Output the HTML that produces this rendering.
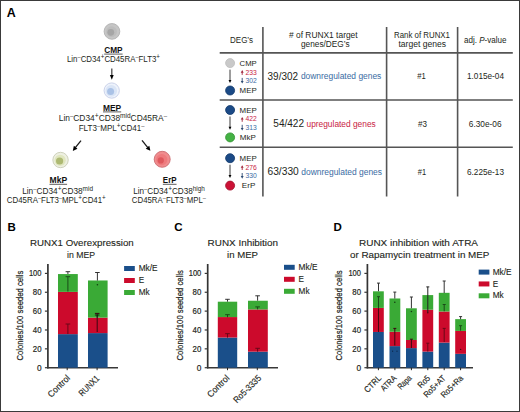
<!DOCTYPE html>
<html><head><meta charset="utf-8"><style>
html,body{margin:0;padding:0;background:#fff;}
body{width:520px;height:412px;overflow:hidden;}
svg{display:block;font-family:"Liberation Sans", sans-serif;}
</style></head><body>
<svg width="520" height="412" viewBox="0 0 520 412">
<rect x="0" y="0" width="520" height="412" fill="#fff"/>
<text x="6.8" y="16.6" font-size="12.2" font-weight="bold" fill="#000" textLength="9" lengthAdjust="spacingAndGlyphs">A</text>
<circle cx="111.95" cy="31.4" r="7.8500000000000005" fill="#c6c6c6" stroke="#b2b2b2" stroke-width="0.9"/>
<circle cx="111.55" cy="31.7" r="5.4" fill="#bdbdbd" stroke="none" stroke-width="0"/>
<circle cx="110.8" cy="32.3" r="3.4" fill="#a6a6a6" stroke="none" stroke-width="0"/>
<circle cx="111.7" cy="90.55" r="7.6499999999999995" fill="#eef3fb" stroke="#c6cee8" stroke-width="0.9"/>
<circle cx="111.3" cy="90.85" r="5.8" fill="#dae5f6" stroke="none" stroke-width="0"/>
<circle cx="110.6" cy="91.4" r="3.5" fill="#aac2e6" stroke="none" stroke-width="0"/>
<circle cx="60.55" cy="160.0" r="7.7" fill="#eef0e2" stroke="#c9cdb6" stroke-width="0.9"/>
<circle cx="60.15" cy="160.3" r="5.6" fill="#e0e6bf" stroke="none" stroke-width="0"/>
<circle cx="59.6" cy="161.0" r="3.6" fill="#adb972" stroke="none" stroke-width="0"/>
<circle cx="162.2" cy="159.3" r="7.999999999999999" fill="#f08c8e" stroke="#cc6c70" stroke-width="0.9"/>
<circle cx="161.79999999999998" cy="159.60000000000002" r="5.6" fill="#ee7a7d" stroke="none" stroke-width="0"/>
<circle cx="160.8" cy="160.4" r="3.1" fill="#de585d" stroke="none" stroke-width="0"/>
<text x="113.4" y="52.8" font-size="8.6" text-anchor="middle" font-weight="bold" fill="#111" textLength="18.4" lengthAdjust="spacingAndGlyphs">CMP</text>
<line x1="104.2" y1="54.099999999999994" x2="122.60000000000001" y2="54.099999999999994" stroke="#333" stroke-width="0.8"/>
<text x="113.5" y="62.4" font-size="8.3" text-anchor="middle" fill="#231f20" textLength="93" lengthAdjust="spacingAndGlyphs"><tspan>Lin</tspan><tspan dy="-3.07" font-size="5.98">&#8211;</tspan><tspan dy="3.07">CD34</tspan><tspan dy="-2.99" font-size="6.64">+</tspan><tspan dy="2.99">CD45RA</tspan><tspan dy="-3.07" font-size="5.98">&#8211;</tspan><tspan dy="3.07">FLT3</tspan><tspan dy="-2.99" font-size="6.64">+</tspan></text>
<line x1="111.8" y1="68.4" x2="111.8" y2="75.5" stroke="#4a4a4a" stroke-width="1.3"/>
<polygon points="111.80,79.80 109.90,75.00 113.70,75.00" fill="#000"/>
<text x="112.1" y="110.6" font-size="8.6" text-anchor="middle" font-weight="bold" fill="#111" textLength="18.2" lengthAdjust="spacingAndGlyphs">MEP</text>
<line x1="103.0" y1="111.89999999999999" x2="121.19999999999999" y2="111.89999999999999" stroke="#333" stroke-width="0.8"/>
<text x="112.9" y="120.6" font-size="8.3" text-anchor="middle" fill="#231f20" textLength="108.2" lengthAdjust="spacingAndGlyphs"><tspan>Lin</tspan><tspan dy="-3.07" font-size="5.98">&#8211;</tspan><tspan dy="3.07">CD34</tspan><tspan dy="-2.99" font-size="6.64">+</tspan><tspan dy="2.99">CD38</tspan><tspan dy="-2.82" font-size="6.47">mid</tspan><tspan dy="2.82">CD45RA</tspan><tspan dy="-3.07" font-size="5.98">&#8211;</tspan></text>
<text x="111.6" y="130.7" font-size="8.3" text-anchor="middle" fill="#231f20" textLength="65.8" lengthAdjust="spacingAndGlyphs"><tspan>FLT3</tspan><tspan dy="-3.07" font-size="5.98">&#8211;</tspan><tspan dy="3.07">MPL</tspan><tspan dy="-2.99" font-size="6.64">+</tspan><tspan dy="2.99">CD41</tspan><tspan dy="-3.07" font-size="5.98">&#8211;</tspan></text>
<line x1="81.0" y1="140.6" x2="75.35364686851634" y2="147.69237039686365" stroke="#1a1a1a" stroke-width="1.3"/>
<polygon points="72.80,150.90 73.87,145.87 77.46,148.73" fill="#000"/>
<line x1="142.0" y1="140.4" x2="147.82381786094078" y2="147.61044116116474" stroke="#1a1a1a" stroke-width="1.3"/>
<polygon points="150.40,150.80 145.72,148.67 149.30,145.78" fill="#000"/>
<text x="58.3" y="183" font-size="8.6" text-anchor="middle" font-weight="bold" fill="#111" textLength="17.6" lengthAdjust="spacingAndGlyphs">MkP</text>
<line x1="49.5" y1="184.3" x2="67.1" y2="184.3" stroke="#333" stroke-width="0.8"/>
<text x="57.6" y="194.1" font-size="8.3" text-anchor="middle" fill="#231f20" textLength="70.8" lengthAdjust="spacingAndGlyphs"><tspan>Lin</tspan><tspan dy="-3.07" font-size="5.98">&#8211;</tspan><tspan dy="3.07">CD34</tspan><tspan dy="-2.99" font-size="6.64">+</tspan><tspan dy="2.99">CD38</tspan><tspan dy="-2.82" font-size="6.47">mid</tspan></text>
<text x="56.3" y="203.2" font-size="8.3" text-anchor="middle" fill="#231f20" textLength="99" lengthAdjust="spacingAndGlyphs"><tspan>CD45RA</tspan><tspan dy="-3.07" font-size="5.98">&#8211;</tspan><tspan dy="3.07">FLT3</tspan><tspan dy="-3.07" font-size="5.98">&#8211;</tspan><tspan dy="3.07">MPL</tspan><tspan dy="-2.99" font-size="6.64">+</tspan><tspan dy="2.99">CD41</tspan><tspan dy="-2.99" font-size="6.64">+</tspan></text>
<text x="169.7" y="183" font-size="8.6" text-anchor="middle" font-weight="bold" fill="#111" textLength="13.7" lengthAdjust="spacingAndGlyphs">ErP</text>
<line x1="162.85" y1="184.3" x2="176.54999999999998" y2="184.3" stroke="#333" stroke-width="0.8"/>
<text x="169.0" y="194.1" font-size="8.3" text-anchor="middle" fill="#231f20" textLength="71.7" lengthAdjust="spacingAndGlyphs"><tspan>Lin</tspan><tspan dy="-3.07" font-size="5.98">&#8211;</tspan><tspan dy="3.07">CD34</tspan><tspan dy="-2.99" font-size="6.64">+</tspan><tspan dy="2.99">CD38</tspan><tspan dy="-2.82" font-size="6.47">high</tspan></text>
<text x="168.9" y="203.2" font-size="8.3" text-anchor="middle" fill="#231f20" textLength="74.1" lengthAdjust="spacingAndGlyphs"><tspan>CD45RA</tspan><tspan dy="-3.07" font-size="5.98">&#8211;</tspan><tspan dy="3.07">FLT3</tspan><tspan dy="-3.07" font-size="5.98">&#8211;</tspan><tspan dy="3.07">MPL</tspan><tspan dy="-3.07" font-size="5.98">&#8211;</tspan></text>
<line x1="219.7" y1="52.9" x2="512.8" y2="52.9" stroke="#555555" stroke-width="1.6"/>
<line x1="219.7" y1="100.0" x2="512.8" y2="100.0" stroke="#555555" stroke-width="1.6"/>
<line x1="219.7" y1="147.2" x2="512.8" y2="147.2" stroke="#555555" stroke-width="1.6"/>
<line x1="262.9" y1="27" x2="262.9" y2="196.5" stroke="#555555" stroke-width="1.6"/>
<line x1="386.6" y1="27" x2="386.6" y2="196.5" stroke="#555555" stroke-width="1.6"/>
<line x1="457.6" y1="27" x2="457.6" y2="196.5" stroke="#555555" stroke-width="1.6"/>
<text x="241.5" y="43" font-size="8.3" text-anchor="middle" fill="#231f20" textLength="23" lengthAdjust="spacingAndGlyphs">DEG&#8217;s</text>
<text x="323.3" y="37.8" font-size="8.3" text-anchor="middle" fill="#231f20" textLength="68.6" lengthAdjust="spacingAndGlyphs"># of RUNX1 target</text>
<text x="325.3" y="47.3" font-size="8.3" text-anchor="middle" fill="#231f20" textLength="48.6" lengthAdjust="spacingAndGlyphs">genes/DEG&#8217;s</text>
<text x="422" y="37.8" font-size="8.3" text-anchor="middle" fill="#231f20" textLength="56" lengthAdjust="spacingAndGlyphs">Rank of RUNX1</text>
<text x="422.2" y="47.3" font-size="8.3" text-anchor="middle" fill="#231f20" textLength="47.6" lengthAdjust="spacingAndGlyphs">target genes</text>
<text x="485.2" y="43" font-size="8.3" text-anchor="middle" fill="#231f20" textLength="42.5" lengthAdjust="spacingAndGlyphs">adj. <tspan font-style="italic">P</tspan>-value</text>
<circle cx="230.1" cy="63.1" r="4.5" fill="#c9c9c9" stroke="#bdbdbd" stroke-width="0.8"/>
<text x="239.6" y="65.7" font-size="8" fill="#231f20" textLength="17.1" lengthAdjust="spacingAndGlyphs">CMP</text>
<line x1="230" y1="69.6" x2="230.0" y2="80.4" stroke="#3a3a3a" stroke-width="1.0"/>
<polygon points="230.00,82.90 228.55,79.90 231.45,79.90" fill="#000"/>
<line x1="242.2" y1="74.9" x2="242.2" y2="72.19999999999999" stroke="#a02338" stroke-width="0.9"/>
<polygon points="242.20,70.10 243.65,72.70 240.75,72.70" fill="#a02338"/>
<text x="245.6" y="74.5" font-size="6.8" fill="#c8233f" textLength="11.3" lengthAdjust="spacingAndGlyphs">233</text>
<line x1="242.2" y1="77.9" x2="242.2" y2="81.5" stroke="#2c4a72" stroke-width="0.9"/>
<polygon points="242.20,83.60 240.75,81.00 243.65,81.00" fill="#2c4a72"/>
<text x="245.6" y="83.3" font-size="6.8" fill="#3a6ca3" textLength="11.3" lengthAdjust="spacingAndGlyphs">302</text>
<circle cx="230.1" cy="90.5" r="4.5" fill="#1b4a86" stroke="#133a6c" stroke-width="0.8"/>
<text x="239.6" y="92.9" font-size="8" fill="#231f20" textLength="17.1" lengthAdjust="spacingAndGlyphs">MEP</text>
<circle cx="230.1" cy="110.0" r="4.5" fill="#1b4a86" stroke="#133a6c" stroke-width="0.8"/>
<text x="239.6" y="112.6" font-size="8" fill="#231f20" textLength="17.1" lengthAdjust="spacingAndGlyphs">MEP</text>
<line x1="230" y1="116.5" x2="230.0" y2="127.30000000000001" stroke="#3a3a3a" stroke-width="1.0"/>
<polygon points="230.00,129.80 228.55,126.80 231.45,126.80" fill="#000"/>
<line x1="242.2" y1="121.80000000000001" x2="242.2" y2="119.1" stroke="#a02338" stroke-width="0.9"/>
<polygon points="242.20,117.00 243.65,119.60 240.75,119.60" fill="#a02338"/>
<text x="245.6" y="121.4" font-size="6.8" fill="#c8233f" textLength="11.3" lengthAdjust="spacingAndGlyphs">422</text>
<line x1="242.2" y1="124.80000000000001" x2="242.2" y2="128.4" stroke="#2c4a72" stroke-width="0.9"/>
<polygon points="242.20,130.50 240.75,127.90 243.65,127.90" fill="#2c4a72"/>
<text x="245.6" y="130.2" font-size="6.8" fill="#3a6ca3" textLength="11.3" lengthAdjust="spacingAndGlyphs">313</text>
<circle cx="230.1" cy="137.4" r="4.5" fill="#44b244" stroke="#2f8f2f" stroke-width="0.8"/>
<text x="239.8" y="139.8" font-size="8" fill="#231f20" textLength="16" lengthAdjust="spacingAndGlyphs">MkP</text>
<circle cx="230.1" cy="158.2" r="4.5" fill="#1b4a86" stroke="#133a6c" stroke-width="0.8"/>
<text x="239.6" y="160.8" font-size="8" fill="#231f20" textLength="17.1" lengthAdjust="spacingAndGlyphs">MEP</text>
<line x1="230" y1="164.7" x2="230.0" y2="175.5" stroke="#3a3a3a" stroke-width="1.0"/>
<polygon points="230.00,178.00 228.55,175.00 231.45,175.00" fill="#000"/>
<line x1="242.2" y1="170.0" x2="242.2" y2="167.29999999999998" stroke="#a02338" stroke-width="0.9"/>
<polygon points="242.20,165.20 243.65,167.80 240.75,167.80" fill="#a02338"/>
<text x="245.6" y="169.6" font-size="6.8" fill="#c8233f" textLength="11.3" lengthAdjust="spacingAndGlyphs">276</text>
<line x1="242.2" y1="173.0" x2="242.2" y2="176.6" stroke="#2c4a72" stroke-width="0.9"/>
<polygon points="242.20,178.70 240.75,176.10 243.65,176.10" fill="#2c4a72"/>
<text x="245.6" y="178.39999999999998" font-size="6.8" fill="#3a6ca3" textLength="11.3" lengthAdjust="spacingAndGlyphs">330</text>
<circle cx="230.1" cy="185.6" r="4.5" fill="#cc1236" stroke="#a00c28" stroke-width="0.8"/>
<text x="241.8" y="188.0" font-size="8" fill="#231f20" textLength="13.5" lengthAdjust="spacingAndGlyphs">ErP</text>
<text x="267.6" y="79.6" font-size="10" fill="#231f20" textLength="30.4" lengthAdjust="spacingAndGlyphs">39/302</text>
<text x="300.9" y="79.4" font-size="8.3" fill="#3a6ca3" textLength="80.4" lengthAdjust="spacingAndGlyphs">downregulated genes</text>
<text x="273.3" y="126.75" font-size="10" fill="#231f20" textLength="30.75" lengthAdjust="spacingAndGlyphs">54/422</text>
<text x="306.5" y="126.75" font-size="8.3" fill="#c8233f" textLength="69.25" lengthAdjust="spacingAndGlyphs">upregulated genes</text>
<text x="267.5" y="175" font-size="10" fill="#231f20" textLength="31.25" lengthAdjust="spacingAndGlyphs">63/330</text>
<text x="301.25" y="175" font-size="8.3" fill="#3a6ca3" textLength="80.75" lengthAdjust="spacingAndGlyphs">downregulated genes</text>
<text x="417.3" y="78.9" font-size="8.6" fill="#231f20" textLength="8.5" lengthAdjust="spacingAndGlyphs">#1</text>
<text x="418" y="126.5" font-size="8.6" fill="#231f20" textLength="9" lengthAdjust="spacingAndGlyphs">#3</text>
<text x="417.8" y="174.6" font-size="8.6" fill="#231f20" textLength="8.3" lengthAdjust="spacingAndGlyphs">#1</text>
<text x="467" y="79" font-size="8.6" fill="#231f20" textLength="37" lengthAdjust="spacingAndGlyphs">1.015e-04</text>
<text x="468.8" y="126.5" font-size="8.6" fill="#231f20" textLength="32.7" lengthAdjust="spacingAndGlyphs">6.30e-06</text>
<text x="467" y="174.6" font-size="8.6" fill="#231f20" textLength="37" lengthAdjust="spacingAndGlyphs">6.225e-13</text>
<text x="7.6" y="231" font-size="11.5" font-weight="bold" fill="#000">B</text>
<text x="81.9" y="246.3" font-size="9.7" text-anchor="middle" fill="#231f20" textLength="103.7" lengthAdjust="spacingAndGlyphs" stroke="#231f20" stroke-width="0.12">RUNX1 Overexpression</text>
<text x="81.0" y="257.6" font-size="9.7" text-anchor="middle" fill="#231f20" textLength="28" lengthAdjust="spacingAndGlyphs" stroke="#231f20" stroke-width="0.12">in MEP</text>
<line x1="47.9" y1="264" x2="47.9" y2="368.4" stroke="#333" stroke-width="1.7"/>
<line x1="47.199999999999996" y1="367.7" x2="118" y2="367.7" stroke="#383838" stroke-width="1.5"/>
<line x1="44.9" y1="367.7" x2="47.9" y2="367.7" stroke="#383838" stroke-width="1.2"/>
<text x="41.5" y="370.5" font-size="8.3" text-anchor="end" fill="#231f20" stroke="#231f20" stroke-width="0.18">0</text>
<line x1="44.9" y1="348.84" x2="47.9" y2="348.84" stroke="#383838" stroke-width="1.2"/>
<text x="41.5" y="351.64" font-size="8.3" text-anchor="end" fill="#231f20" textLength="8.7" lengthAdjust="spacingAndGlyphs" stroke="#231f20" stroke-width="0.18">20</text>
<line x1="44.9" y1="329.98" x2="47.9" y2="329.98" stroke="#383838" stroke-width="1.2"/>
<text x="41.5" y="332.78000000000003" font-size="8.3" text-anchor="end" fill="#231f20" textLength="8.7" lengthAdjust="spacingAndGlyphs" stroke="#231f20" stroke-width="0.18">40</text>
<line x1="44.9" y1="311.12" x2="47.9" y2="311.12" stroke="#383838" stroke-width="1.2"/>
<text x="41.5" y="313.92" font-size="8.3" text-anchor="end" fill="#231f20" textLength="8.7" lengthAdjust="spacingAndGlyphs" stroke="#231f20" stroke-width="0.18">60</text>
<line x1="44.9" y1="292.26" x2="47.9" y2="292.26" stroke="#383838" stroke-width="1.2"/>
<text x="41.5" y="295.06" font-size="8.3" text-anchor="end" fill="#231f20" textLength="8.7" lengthAdjust="spacingAndGlyphs" stroke="#231f20" stroke-width="0.18">80</text>
<line x1="44.9" y1="273.4" x2="47.9" y2="273.4" stroke="#383838" stroke-width="1.2"/>
<text x="41.5" y="276.2" font-size="8.3" text-anchor="end" fill="#231f20" textLength="12.6" lengthAdjust="spacingAndGlyphs" stroke="#231f20" stroke-width="0.18">100</text>
<text x="0" y="0" font-size="9.7" text-anchor="middle" fill="#231f20" stroke="#231f20" stroke-width="0.22" textLength="90" lengthAdjust="spacingAndGlyphs" transform="translate(22.6,315.6) rotate(-90)">Colonies/100 seeded cells</text>
<rect x="58" y="334.12919999999997" width="19.8" height="33.57080000000002" fill="#1a4f8a"/>
<rect x="58" y="291.8828" width="19.8" height="42.246399999999994" fill="#cc0a2c"/>
<rect x="58" y="274.0601" width="19.8" height="17.822699999999998" fill="#3aaa36"/>
<rect x="88" y="333.0919" width="19.6" height="34.60809999999998" fill="#1a4f8a"/>
<rect x="88" y="317.62669999999997" width="19.6" height="15.465200000000038" fill="#cc0a2c"/>
<rect x="88" y="280.47249999999997" width="19.6" height="37.1542" fill="#3aaa36"/>
<line x1="67.2" y1="367.7" x2="67.2" y2="370.2" stroke="#222" stroke-width="1"/>
<line x1="97.1" y1="367.7" x2="97.1" y2="370.2" stroke="#222" stroke-width="1"/>
<line x1="67.9" y1="271.7" x2="67.9" y2="274.0" stroke="#333" stroke-width="1"/>
<line x1="65.60000000000001" y1="271.7" x2="70.2" y2="271.7" stroke="#333" stroke-width="1"/>
<line x1="67.9" y1="276.7" x2="67.9" y2="291.5" stroke="#1a4a18" stroke-width="1"/>
<line x1="65.60000000000001" y1="276.7" x2="70.2" y2="276.7" stroke="#1a4a18" stroke-width="1"/>
<line x1="67.9" y1="324" x2="67.9" y2="334" stroke="#6a0818" stroke-width="1"/>
<line x1="65.60000000000001" y1="324" x2="70.2" y2="324" stroke="#6a0818" stroke-width="1"/>
<line x1="97.4" y1="272.5" x2="97.4" y2="280.6" stroke="#333" stroke-width="1"/>
<line x1="95.10000000000001" y1="272.5" x2="99.7" y2="272.5" stroke="#333" stroke-width="1"/>
<line x1="97.2" y1="313.4" x2="97.2" y2="332" stroke="#3a0810" stroke-width="1"/>
<line x1="94.9" y1="313.4" x2="99.5" y2="313.4" stroke="#3a0810" stroke-width="1"/>
<line x1="97.2" y1="315" x2="97.2" y2="317.5" stroke="#112211" stroke-width="1"/>
<line x1="94.9" y1="315" x2="99.5" y2="315" stroke="#112211" stroke-width="1"/>
<rect x="124.1" y="266" width="10.7" height="5" fill="#1a4f8a"/>
<text x="138.7" y="271.1" font-size="8.2" fill="#231f20" textLength="18.9" lengthAdjust="spacingAndGlyphs" stroke="#231f20" stroke-width="0.12">Mk/E</text>
<rect x="124.1" y="278" width="10.7" height="5" fill="#cc0a2c"/>
<text x="138.7" y="283.1" font-size="8.2" fill="#231f20" stroke="#231f20" stroke-width="0.12">E</text>
<rect x="124.1" y="290" width="10.7" height="5" fill="#3aaa36"/>
<text x="138.7" y="295.1" font-size="8.2" fill="#231f20" stroke="#231f20" stroke-width="0.12">Mk</text>
<text x="0" y="0" font-size="9" text-anchor="end" fill="#231f20" stroke="#231f20" stroke-width="0.15" textLength="27.3" lengthAdjust="spacingAndGlyphs" transform="translate(70.6,378.6) rotate(-45)">Control</text>
<text x="0" y="0" font-size="9" text-anchor="end" fill="#231f20" stroke="#231f20" stroke-width="0.15" textLength="25" lengthAdjust="spacingAndGlyphs" transform="translate(100,379) rotate(-45)">RUNX1</text>
<text x="174.2" y="231" font-size="11.5" font-weight="bold" fill="#000">C</text>
<text x="242.8" y="246.2" font-size="9.7" text-anchor="middle" fill="#231f20" textLength="70.4" lengthAdjust="spacingAndGlyphs" stroke="#231f20" stroke-width="0.12">RUNX Inhibition</text>
<text x="242.5" y="257.6" font-size="9.7" text-anchor="middle" fill="#231f20" textLength="31" lengthAdjust="spacingAndGlyphs" stroke="#231f20" stroke-width="0.12">in MEP</text>
<line x1="207.7" y1="264" x2="207.7" y2="368.4" stroke="#333" stroke-width="1.7"/>
<line x1="207.0" y1="367.7" x2="278" y2="367.7" stroke="#383838" stroke-width="1.5"/>
<line x1="204.7" y1="367.7" x2="207.7" y2="367.7" stroke="#383838" stroke-width="1.2"/>
<text x="201.29999999999998" y="370.5" font-size="8.3" text-anchor="end" fill="#231f20" stroke="#231f20" stroke-width="0.18">0</text>
<line x1="204.7" y1="348.84" x2="207.7" y2="348.84" stroke="#383838" stroke-width="1.2"/>
<text x="201.29999999999998" y="351.64" font-size="8.3" text-anchor="end" fill="#231f20" textLength="8.7" lengthAdjust="spacingAndGlyphs" stroke="#231f20" stroke-width="0.18">20</text>
<line x1="204.7" y1="329.98" x2="207.7" y2="329.98" stroke="#383838" stroke-width="1.2"/>
<text x="201.29999999999998" y="332.78000000000003" font-size="8.3" text-anchor="end" fill="#231f20" textLength="8.7" lengthAdjust="spacingAndGlyphs" stroke="#231f20" stroke-width="0.18">40</text>
<line x1="204.7" y1="311.12" x2="207.7" y2="311.12" stroke="#383838" stroke-width="1.2"/>
<text x="201.29999999999998" y="313.92" font-size="8.3" text-anchor="end" fill="#231f20" textLength="8.7" lengthAdjust="spacingAndGlyphs" stroke="#231f20" stroke-width="0.18">60</text>
<line x1="204.7" y1="292.26" x2="207.7" y2="292.26" stroke="#383838" stroke-width="1.2"/>
<text x="201.29999999999998" y="295.06" font-size="8.3" text-anchor="end" fill="#231f20" textLength="8.7" lengthAdjust="spacingAndGlyphs" stroke="#231f20" stroke-width="0.18">80</text>
<line x1="204.7" y1="273.4" x2="207.7" y2="273.4" stroke="#383838" stroke-width="1.2"/>
<text x="201.29999999999998" y="276.2" font-size="8.3" text-anchor="end" fill="#231f20" textLength="12.6" lengthAdjust="spacingAndGlyphs" stroke="#231f20" stroke-width="0.18">100</text>
<text x="0" y="0" font-size="9.7" text-anchor="middle" fill="#231f20" stroke="#231f20" stroke-width="0.22" textLength="90.5" lengthAdjust="spacingAndGlyphs" transform="translate(182.9,315.3) rotate(-90)">Colonies/100 seeded cells</text>
<rect x="217.8" y="337.524" width="19.4" height="30.175999999999988" fill="#1a4f8a"/>
<rect x="217.8" y="317.0609" width="19.4" height="20.463099999999997" fill="#cc0a2c"/>
<rect x="217.8" y="301.69" width="19.4" height="15.370900000000006" fill="#3aaa36"/>
<rect x="248" y="351.669" width="19.8" height="16.031000000000006" fill="#1a4f8a"/>
<rect x="248" y="309.4226" width="19.8" height="42.246399999999994" fill="#cc0a2c"/>
<rect x="248" y="300.74699999999996" width="19.8" height="8.675600000000031" fill="#3aaa36"/>
<line x1="227.5" y1="367.7" x2="227.5" y2="370.2" stroke="#222" stroke-width="1"/>
<line x1="257.3" y1="367.7" x2="257.3" y2="370.2" stroke="#222" stroke-width="1"/>
<line x1="227.5" y1="299.3" x2="227.5" y2="301.7" stroke="#333" stroke-width="1"/>
<line x1="225.2" y1="299.3" x2="229.8" y2="299.3" stroke="#333" stroke-width="1"/>
<line x1="227.5" y1="314.7" x2="227.5" y2="317.2" stroke="#1a4a18" stroke-width="1"/>
<line x1="225.2" y1="314.7" x2="229.8" y2="314.7" stroke="#1a4a18" stroke-width="1"/>
<line x1="227.5" y1="333.7" x2="227.5" y2="337.6" stroke="#6a0818" stroke-width="1"/>
<line x1="225.2" y1="333.7" x2="229.8" y2="333.7" stroke="#6a0818" stroke-width="1"/>
<line x1="257.6" y1="295.8" x2="257.6" y2="300.7" stroke="#333" stroke-width="1"/>
<line x1="255.3" y1="295.8" x2="259.90000000000003" y2="295.8" stroke="#333" stroke-width="1"/>
<line x1="257.6" y1="306.9" x2="257.6" y2="309.4" stroke="#1a4a18" stroke-width="1"/>
<line x1="255.3" y1="306.9" x2="259.90000000000003" y2="306.9" stroke="#1a4a18" stroke-width="1"/>
<line x1="257.6" y1="348.3" x2="257.6" y2="351.7" stroke="#6a0818" stroke-width="1"/>
<line x1="255.3" y1="348.3" x2="259.90000000000003" y2="348.3" stroke="#6a0818" stroke-width="1"/>
<rect x="284" y="264.8" width="10.7" height="5" fill="#1a4f8a"/>
<text x="298.6" y="269.90000000000003" font-size="8.2" fill="#231f20" textLength="18.9" lengthAdjust="spacingAndGlyphs" stroke="#231f20" stroke-width="0.12">Mk/E</text>
<rect x="284" y="276.8" width="10.7" height="5" fill="#cc0a2c"/>
<text x="298.6" y="281.90000000000003" font-size="8.2" fill="#231f20" stroke="#231f20" stroke-width="0.12">E</text>
<rect x="284" y="288.8" width="10.7" height="5" fill="#3aaa36"/>
<text x="298.6" y="293.90000000000003" font-size="8.2" fill="#231f20" stroke="#231f20" stroke-width="0.12">Mk</text>
<text x="0" y="0" font-size="9" text-anchor="end" fill="#231f20" stroke="#231f20" stroke-width="0.15" textLength="27.3" lengthAdjust="spacingAndGlyphs" transform="translate(230,378.6) rotate(-45)">Control</text>
<text x="0" y="0" font-size="9" text-anchor="end" fill="#231f20" stroke="#231f20" stroke-width="0.15" textLength="35" lengthAdjust="spacingAndGlyphs" transform="translate(261.8,378.7) rotate(-45)">Ro5-3335</text>
<text x="333.6" y="231" font-size="11.5" font-weight="bold" fill="#000">D</text>
<text x="418.5" y="246.4" font-size="9.7" text-anchor="middle" fill="#231f20" textLength="119" lengthAdjust="spacingAndGlyphs" stroke="#231f20" stroke-width="0.12">RUNX inhibition with ATRA</text>
<text x="419.7" y="257.5" font-size="9.7" text-anchor="middle" fill="#231f20" textLength="139.4" lengthAdjust="spacingAndGlyphs" stroke="#231f20" stroke-width="0.12">or Rapamycin treatment in MEP</text>
<line x1="367.4" y1="264" x2="367.4" y2="368.4" stroke="#333" stroke-width="1.7"/>
<line x1="366.7" y1="367.7" x2="473" y2="367.7" stroke="#383838" stroke-width="1.5"/>
<line x1="364.4" y1="367.7" x2="367.4" y2="367.7" stroke="#383838" stroke-width="1.2"/>
<text x="361.0" y="370.5" font-size="8.3" text-anchor="end" fill="#231f20" stroke="#231f20" stroke-width="0.18">0</text>
<line x1="364.4" y1="348.84" x2="367.4" y2="348.84" stroke="#383838" stroke-width="1.2"/>
<text x="361.0" y="351.64" font-size="8.3" text-anchor="end" fill="#231f20" textLength="8.7" lengthAdjust="spacingAndGlyphs" stroke="#231f20" stroke-width="0.18">20</text>
<line x1="364.4" y1="329.98" x2="367.4" y2="329.98" stroke="#383838" stroke-width="1.2"/>
<text x="361.0" y="332.78000000000003" font-size="8.3" text-anchor="end" fill="#231f20" textLength="8.7" lengthAdjust="spacingAndGlyphs" stroke="#231f20" stroke-width="0.18">40</text>
<line x1="364.4" y1="311.12" x2="367.4" y2="311.12" stroke="#383838" stroke-width="1.2"/>
<text x="361.0" y="313.92" font-size="8.3" text-anchor="end" fill="#231f20" textLength="8.7" lengthAdjust="spacingAndGlyphs" stroke="#231f20" stroke-width="0.18">60</text>
<line x1="364.4" y1="292.26" x2="367.4" y2="292.26" stroke="#383838" stroke-width="1.2"/>
<text x="361.0" y="295.06" font-size="8.3" text-anchor="end" fill="#231f20" textLength="8.7" lengthAdjust="spacingAndGlyphs" stroke="#231f20" stroke-width="0.18">80</text>
<line x1="364.4" y1="273.4" x2="367.4" y2="273.4" stroke="#383838" stroke-width="1.2"/>
<text x="361.0" y="276.2" font-size="8.3" text-anchor="end" fill="#231f20" textLength="12.6" lengthAdjust="spacingAndGlyphs" stroke="#231f20" stroke-width="0.18">100</text>
<text x="0" y="0" font-size="9.7" text-anchor="middle" fill="#231f20" stroke="#231f20" stroke-width="0.22" textLength="90" lengthAdjust="spacingAndGlyphs" transform="translate(342.2,315.5) rotate(-90)">Colonies/100 seeded cells</text>
<rect x="373.0" y="331.96029999999996" width="10.8" height="35.73970000000003" fill="#1a4f8a"/>
<rect x="373.0" y="307.9138" width="10.8" height="24.04649999999998" fill="#cc0a2c"/>
<rect x="373.0" y="291.317" width="10.8" height="16.596799999999973" fill="#3aaa36"/>
<line x1="378.4" y1="367.7" x2="378.4" y2="370.2" stroke="#222" stroke-width="1"/>
<rect x="389.5" y="346.1053" width="10.8" height="21.59469999999999" fill="#1a4f8a"/>
<rect x="389.5" y="331.7717" width="10.8" height="14.33359999999999" fill="#cc0a2c"/>
<rect x="389.5" y="298.4838" width="10.8" height="33.287900000000036" fill="#3aaa36"/>
<line x1="394.9" y1="367.7" x2="394.9" y2="370.2" stroke="#222" stroke-width="1"/>
<rect x="406.0" y="348.0856" width="10.8" height="19.61439999999999" fill="#1a4f8a"/>
<rect x="406.0" y="339.9758" width="10.8" height="8.109800000000007" fill="#cc0a2c"/>
<rect x="406.0" y="308.291" width="10.8" height="31.684799999999996" fill="#3aaa36"/>
<line x1="411.4" y1="367.7" x2="411.4" y2="370.2" stroke="#222" stroke-width="1"/>
<rect x="422.40000000000003" y="351.5747" width="10.8" height="16.12529999999998" fill="#1a4f8a"/>
<rect x="422.40000000000003" y="309.7055" width="10.8" height="41.869200000000035" fill="#cc0a2c"/>
<rect x="422.40000000000003" y="295.089" width="10.8" height="14.616499999999974" fill="#3aaa36"/>
<line x1="427.8" y1="367.7" x2="427.8" y2="370.2" stroke="#222" stroke-width="1"/>
<rect x="438.8" y="342.6162" width="10.8" height="25.083799999999997" fill="#1a4f8a"/>
<rect x="438.8" y="311.4972" width="10.8" height="31.11899999999997" fill="#cc0a2c"/>
<rect x="438.8" y="292.82579999999996" width="10.8" height="18.671400000000062" fill="#3aaa36"/>
<line x1="444.2" y1="367.7" x2="444.2" y2="370.2" stroke="#222" stroke-width="1"/>
<rect x="455.20000000000005" y="353.8379" width="10.8" height="13.862099999999998" fill="#1a4f8a"/>
<rect x="455.20000000000005" y="330.923" width="10.8" height="22.91489999999999" fill="#cc0a2c"/>
<rect x="455.20000000000005" y="319.1355" width="10.8" height="11.787500000000023" fill="#3aaa36"/>
<line x1="460.6" y1="367.7" x2="460.6" y2="370.2" stroke="#222" stroke-width="1"/>
<line x1="378.5" y1="283.1" x2="378.5" y2="291.3" stroke="#333" stroke-width="1"/>
<line x1="377.0" y1="283.1" x2="380.0" y2="283.1" stroke="#333" stroke-width="1"/>
<line x1="378.5" y1="296.7" x2="378.5" y2="308.5" stroke="#1a4a18" stroke-width="1"/>
<line x1="377.0" y1="296.7" x2="380.0" y2="296.7" stroke="#1a4a18" stroke-width="1"/>
<line x1="378.5" y1="308.5" x2="378.5" y2="332" stroke="#4a0810" stroke-width="1"/>
<line x1="394.8" y1="292.1" x2="394.8" y2="298.6" stroke="#333" stroke-width="1"/>
<line x1="393.3" y1="292.1" x2="396.3" y2="292.1" stroke="#333" stroke-width="1"/>
<line x1="394.8" y1="328.4" x2="394.8" y2="345.5" stroke="#3a0810" stroke-width="1"/>
<line x1="393.3" y1="328.4" x2="396.3" y2="328.4" stroke="#3a0810" stroke-width="1"/>
<line x1="411.4" y1="339.2" x2="411.4" y2="348" stroke="#3a0810" stroke-width="1"/>
<line x1="409.9" y1="339.2" x2="412.9" y2="339.2" stroke="#3a0810" stroke-width="1"/>
<line x1="411.4" y1="297" x2="411.4" y2="308.3" stroke="#333" stroke-width="1"/>
<line x1="409.9" y1="297" x2="412.9" y2="297" stroke="#333" stroke-width="1"/>
<line x1="427.8" y1="286.9" x2="427.8" y2="312.5" stroke="#222" stroke-width="1"/>
<line x1="426.3" y1="286.9" x2="429.3" y2="286.9" stroke="#222" stroke-width="1"/>
<line x1="427.8" y1="343.2" x2="427.8" y2="351.6" stroke="#6a0818" stroke-width="1"/>
<line x1="426.3" y1="343.2" x2="429.3" y2="343.2" stroke="#6a0818" stroke-width="1"/>
<line x1="444.2" y1="281" x2="444.2" y2="293" stroke="#333" stroke-width="1"/>
<line x1="442.7" y1="281" x2="445.7" y2="281" stroke="#333" stroke-width="1"/>
<line x1="444.2" y1="304.5" x2="444.2" y2="311.3" stroke="#1a4a18" stroke-width="1"/>
<line x1="442.7" y1="304.5" x2="445.7" y2="304.5" stroke="#1a4a18" stroke-width="1"/>
<line x1="444.2" y1="328.4" x2="444.2" y2="342" stroke="#6a0818" stroke-width="1"/>
<line x1="442.7" y1="328.4" x2="445.7" y2="328.4" stroke="#6a0818" stroke-width="1"/>
<line x1="460.6" y1="316.6" x2="460.6" y2="319.3" stroke="#333" stroke-width="1"/>
<line x1="459.1" y1="316.6" x2="462.1" y2="316.6" stroke="#333" stroke-width="1"/>
<line x1="460.6" y1="325.7" x2="460.6" y2="330.7" stroke="#1a4a18" stroke-width="1"/>
<line x1="459.1" y1="325.7" x2="462.1" y2="325.7" stroke="#1a4a18" stroke-width="1"/>
<circle cx="394.8" cy="302.3" r="0.8" fill="#143a12" stroke="none" stroke-width="0"/>
<circle cx="392.6" cy="351.2" r="0.6" fill="#0c2444" stroke="none" stroke-width="0"/>
<circle cx="397" cy="351.2" r="0.6" fill="#0c2444" stroke="none" stroke-width="0"/>
<circle cx="411.4" cy="311.5" r="0.8" fill="#143a12" stroke="none" stroke-width="0"/>
<circle cx="460.6" cy="349.4" r="0.7" fill="#4a0810" stroke="none" stroke-width="0"/>
<circle cx="97.4" cy="284.8" r="0.8" fill="#143a12" stroke="none" stroke-width="0"/>
<circle cx="427.8" cy="312.8" r="0.7" fill="#4a0810" stroke="none" stroke-width="0"/>
<rect x="478.7" y="269.6" width="10.7" height="5" fill="#1a4f8a"/>
<text x="492.7" y="274.70000000000005" font-size="8.2" fill="#231f20" textLength="18.9" lengthAdjust="spacingAndGlyphs" stroke="#231f20" stroke-width="0.12">Mk/E</text>
<rect x="478.7" y="281.45000000000005" width="10.7" height="5" fill="#cc0a2c"/>
<text x="492.7" y="286.55000000000007" font-size="8.2" fill="#231f20" stroke="#231f20" stroke-width="0.12">E</text>
<rect x="478.7" y="293.3" width="10.7" height="5" fill="#3aaa36"/>
<text x="492.7" y="298.40000000000003" font-size="8.2" fill="#231f20" stroke="#231f20" stroke-width="0.12">Mk</text>
<text x="0" y="0" font-size="8.6" text-anchor="end" fill="#231f20" stroke="#231f20" stroke-width="0.15" textLength="20.5" lengthAdjust="spacingAndGlyphs" transform="translate(381.9,378.7) rotate(-45)">CTRL</text>
<text x="0" y="0" font-size="8.6" text-anchor="end" fill="#231f20" stroke="#231f20" stroke-width="0.15" textLength="18.3" lengthAdjust="spacingAndGlyphs" transform="translate(397,378.7) rotate(-45)">ATRA</text>
<text x="0" y="0" font-size="8.6" text-anchor="end" fill="#231f20" stroke="#231f20" stroke-width="0.15" textLength="16" lengthAdjust="spacingAndGlyphs" transform="translate(412.2,378.7) rotate(-45)">Rapa</text>
<text x="0" y="0" font-size="8.6" text-anchor="end" fill="#231f20" stroke="#231f20" stroke-width="0.15" textLength="13.8" lengthAdjust="spacingAndGlyphs" transform="translate(430.8,378.7) rotate(-45)">Ro5</text>
<text x="0" y="0" font-size="8.6" text-anchor="end" fill="#231f20" stroke="#231f20" stroke-width="0.15" textLength="27.3" lengthAdjust="spacingAndGlyphs" transform="translate(446.2,378.7) rotate(-45)">Ro5+AT</text>
<text x="0" y="0" font-size="8.6" text-anchor="end" fill="#231f20" stroke="#231f20" stroke-width="0.15" textLength="27.6" lengthAdjust="spacingAndGlyphs" transform="translate(463.8,378.7) rotate(-45)">Ro5+Ra</text>
<rect x="0.5" y="0.5" width="519" height="411" fill="none" stroke="#3a3a3a" stroke-width="1"/>
</svg>
</body></html>
